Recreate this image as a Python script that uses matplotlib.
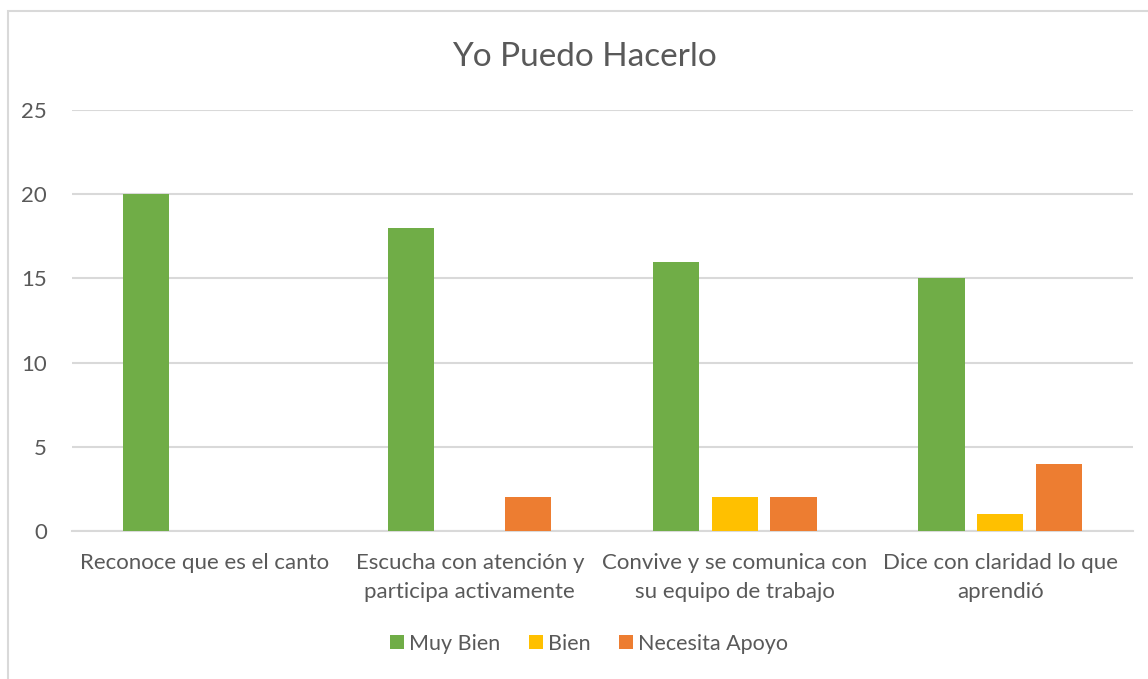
import matplotlib.pyplot as plt
import numpy as np
from matplotlib.patches import Rectangle

plt.rcParams['font.family'] = ['Lato', 'DejaVu Sans']

# datos del grafico
categorias = ["Reconoce que es el canto",
              "Escucha con atención y\nparticipa activamente",
              "Convive y se comunica con\nsu equipo de trabajo",
              "Dice con claridad lo que\naprendió"]
muy_bien = [20, 18, 16, 15]
bien = [0, 0, 2, 1]
necesita_apoyo = [0, 2, 2, 4]
series = ["Muy Bien", "Bien", "Necesita Apoyo"]
colores = ["#70AD47", "#FFC000", "#ED7D31"]

fig = plt.figure(figsize=(11.48, 6.79), dpi=100)
ax = fig.add_axes([0.0627, 0.218, 0.924, 0.62])

# borde del area del grafico (se corta a la derecha y abajo)
fig.patches.append(Rectangle((8 / 1148, -0.05), 1.2, 1 - 11 / 679 + 0.05,
                             transform=fig.transFigure, fill=False,
                             edgecolor="#D9D9D9", linewidth=1.5))

x = np.arange(len(categorias))
ancho = 0.174
paso = 0.221
for i, (vals, nombre, col) in enumerate(zip([muy_bien, bien, necesita_apoyo], series, colores)):
    ax.bar(x + (i - 1) * paso, vals, ancho, color=col, label=nombre, zorder=3)

ax.set_xlim(-0.5, len(categorias) - 0.5)
ax.set_ylim(0, 25)
ax.set_yticks(range(0, 26, 5))
ax.set_xticks(x)
ax.set_xticklabels(categorias, fontsize=16, color="#595959", linespacing=1.55)
ax.tick_params(axis='y', labelsize=16, labelcolor="#595959", length=0, pad=18)
ax.tick_params(axis='x', length=0, pad=16)
ax.grid(axis='y', color="#D9D9D9", linewidth=1.5, zorder=0)
for s in ["left", "right", "top"]:
    ax.spines[s].set_visible(False)
ax.spines["bottom"].set_color("#D9D9D9")
ax.spines["bottom"].set_linewidth(1.5)

fig.text(0.509, 0.916, "Yo Puedo Hacerlo", ha="center", va="center",
         fontsize=24, color="#595959")

fig.legend(loc="center", bbox_to_anchor=(0.513, 0.052), ncol=3, frameon=False,
           fontsize=15.5, labelcolor="#595959", handlelength=0.65, handleheight=0.65,
           handletextpad=0.25, columnspacing=1.3)

fig.savefig("out.png", dpi=100)
